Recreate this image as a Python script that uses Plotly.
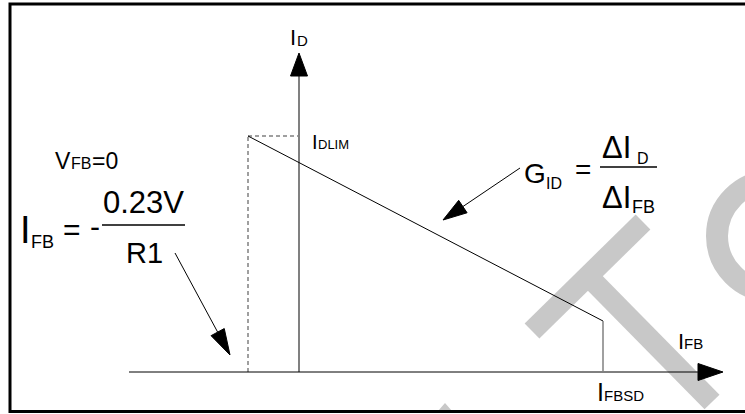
import plotly.graph_objects as go

W, H = 745, 414
FONT = "Liberation Sans, Arial, sans-serif"
GRAY = "#808080"
WM = "#c8c8c8"

# sketch coordinates (pixels, y grows downward)
# I_D vs I_FB characteristic: I_DLIM corner -> slope -> shutdown at I_FBSD
curve_x = [248, 603]
curve_y = [136, 321]
sd_x = [603, 603]
sd_y = [321, 372]

# dashed guides (I_FB = -0.23V/R1 and the I_DLIM level)
guide_v_x = [248, 248]
guide_v_y = [372, 136]
guide_h_x = [248, 299]
guide_h_y = [136, 136]

# axes (tail -> arrow tip)
x_axis_x = [129, 723]
x_axis_y = [372, 372]
y_axis_x = [299, 299]
y_axis_y = [372, 53]

# callout arrows (tail -> tip)
ifb_arrow_x = [175, 230]
ifb_arrow_y = [253, 355]
gid_arrow_x = [520, 443]
gid_arrow_y = [168, 220]

# fraction bars
frac1_x = [102, 185]
frac1_y = [225, 225]
frac2_x = [600, 657]
frac2_y = [167, 167]

# watermark pieces
wm_bar_x = [532, 643]
wm_bar_y = [331, 222]
wm_stem_x = [588, 712]
wm_stem_y = [276, 402]
wm_tip_x = [438, 445, 452]
wm_tip_y = [411, 403, 411]


def arrow_head(xs, ys, length, half):
    x0, x1 = xs
    y0, y1 = ys
    dx, dy = x1 - x0, y1 - y0
    n = (dx * dx + dy * dy) ** 0.5
    ux, uy = dx / n, dy / n
    bx, by = x1 - ux * length, y1 - uy * length
    hx = [x1, bx - uy * half, bx + uy * half, x1]
    hy = [y1, by + ux * half, by - ux * half, y1]
    return hx, hy, bx, by


fig = go.Figure()


def line(xs, ys, color="black", width=1, dash=None):
    fig.add_trace(go.Scatter(x=xs, y=ys, mode="lines",
                             line=dict(color=color, width=width, dash=dash),
                             hoverinfo="skip", showlegend=False))


def head(hx, hy):
    fig.add_trace(go.Scatter(x=hx, y=hy, mode="lines", fill="toself",
                             fillcolor="black", line=dict(color="black", width=1),
                             hoverinfo="skip", showlegend=False))


# watermark first so everything else sits on top
line(wm_bar_x, wm_bar_y, WM, 21)
line(wm_stem_x, wm_stem_y, WM, 21)
fig.add_trace(go.Scatter(x=wm_tip_x, y=wm_tip_y, mode="lines", fill="toself",
                         fillcolor=WM, line=dict(color=WM, width=0),
                         hoverinfo="skip", showlegend=False))
fig.add_shape(type="circle", x0=772 - 55, x1=772 + 55, y0=236 - 55, y1=236 + 55,
              line=dict(color=WM, width=22), layer="below")

# guides
line(guide_v_x, guide_v_y, GRAY, 1.5, "4px,3px")
line(guide_h_x, guide_h_y, GRAY, 1.5, "4px,3px")

# axes
hx, hy, bx, by = arrow_head(y_axis_x, y_axis_y, 23, 8.5)
line([y_axis_x[0], bx], [y_axis_y[0], by], GRAY, 2)
head(hx, hy)
hx, hy, bx, by = arrow_head(x_axis_x, x_axis_y, 25, 8.5)
line([x_axis_x[0], bx], [x_axis_y[0], by], "black", 1)
head(hx, hy)

# characteristic
line(curve_x, curve_y, "black", 1)
line(sd_x, sd_y, GRAY, 1.5)

# callouts
for ax, ay, ln in [(ifb_arrow_x, ifb_arrow_y, 26), (gid_arrow_x, gid_arrow_y, 24)]:
    hx, hy, bx, by = arrow_head(ax, ay, ln, 7.5)
    line([ax[0], bx], [ay[0], by], "black", 1)
    head(hx, hy)

line(frac1_x, frac1_y, "black", 1.5)
line(frac2_x, frac2_y, "black", 1.5)


def label(text, x, base, size):
    # place by baseline: box top sits one ascent above it
    fig.add_annotation(x=x, y=base - 0.905 * size, text=text, xanchor="left",
                       yanchor="top", showarrow=False, borderpad=0,
                       font=dict(family=FONT, size=size, color="black"))


# axis labels
label("I", 289, 44, 22)
label("D", 296.2, 45, 15)
label("I", 311, 148, 20)
label("DLIM", 316.6, 148, 13)
label("I", 677, 348, 22)
label("FB", 683.2, 348, 15)
label("I", 596, 400, 25)
label("FBSD", 603, 400, 15)

# I_FB formula
label("V", 54, 168, 23)
label("FB", 70, 168, 16)
label("=0", 90.5, 168, 23)
label("0.23V", 102, 212, 31)
label("R1", 125, 262, 29)
label("I", 19, 242, 38)
label("FB", 30, 247, 18)
label("=", 62, 239, 30)
label("-", 89, 236, 30)

# G_ID formula
label("G", 523, 182, 28)
label("ID", 545, 188, 16)
label("=", 574, 178, 28)
label("ΔI", 601, 157, 31)
label("D", 636, 163, 16)
label("ΔI", 601, 207, 31)
label("FB", 631, 212, 18)

# frame
fig.add_shape(type="rect", x0=10, x1=760, y0=4, y1=411.5,
              line=dict(color="black", width=3), layer="above")

fig.update_layout(
    width=W, height=H,
    margin=dict(l=0, r=0, t=0, b=0),
    paper_bgcolor="white", plot_bgcolor="white",
    xaxis=dict(range=[0, W], visible=False, fixedrange=True),
    yaxis=dict(range=[H, 0], visible=False, fixedrange=True),
)

fig.write_html("out.html", config={"displayModeBar": False},
               post_script="document.body.style.margin='0';")
